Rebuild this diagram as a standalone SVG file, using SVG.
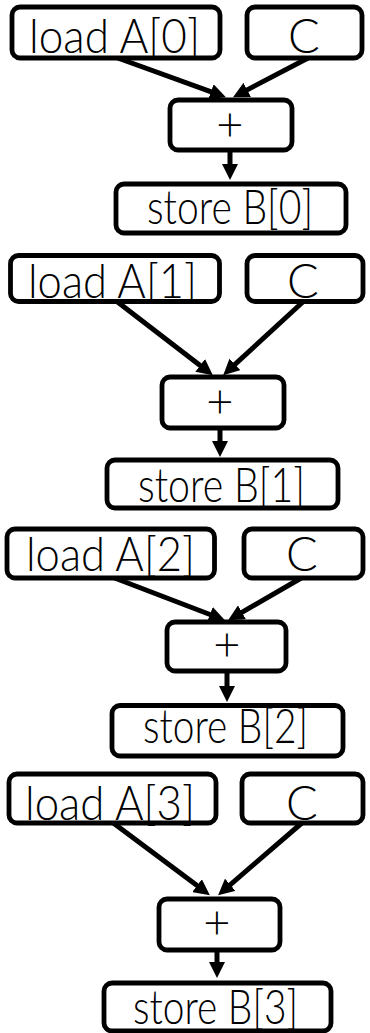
<svg xmlns="http://www.w3.org/2000/svg" width="370" height="1033" viewBox="0 0 370 1033">
  <style>
    .box { fill: #ffffff; stroke: #000000; stroke-width: 4.8; }
    .lbl { font-family: Lato, "Liberation Sans", sans-serif; font-weight: 300; font-size: 47px; fill: #000000; }
    .mid { text-anchor: middle; }
    .edge { stroke: #000000; stroke-width: 5; fill: none; marker-end: url(#head); }
  </style>
  <defs>
    <marker id="head" markerUnits="userSpaceOnUse" markerWidth="16" markerHeight="16" refX="7" refY="8" orient="auto">
      <path d="M0,0 L16,8 L0,16 z" fill="#000000"/>
    </marker>
  </defs>
  <rect width="370" height="1033" fill="#ffffff"/>

  <!-- data-flow edges -->
  <g id="connectors">
    <line class="edge" x1="115" y1="57" x2="217.5" y2="94.2"/>
    <line class="edge" x1="310" y1="57" x2="241" y2="93.1"/>
    <line class="edge" x1="230" y1="150" x2="230" y2="171"/>

    <line class="edge" x1="115" y1="300" x2="205.7" y2="369.7"/>
    <line class="edge" x1="305" y1="300" x2="229.8" y2="369.1"/>
    <line class="edge" x1="220" y1="428" x2="220" y2="448"/>

    <line class="edge" x1="112" y1="577" x2="216.5" y2="617"/>
    <line class="edge" x1="303" y1="577" x2="235.9" y2="615.8"/>
    <line class="edge" x1="227" y1="671" x2="227" y2="693"/>

    <line class="edge" x1="112" y1="822" x2="202.7" y2="889.8"/>
    <line class="edge" x1="303" y1="822" x2="224.9" y2="889.3"/>
    <line class="edge" x1="217" y1="950" x2="217" y2="969"/>
  </g>

  <!-- iteration 0 -->
  <g id="load0"><rect class="box" x="12" y="7" width="208" height="51" rx="8"/><text class="lbl" x="29" y="53" textLength="171" lengthAdjust="spacingAndGlyphs">load A[0]</text></g>
  <g id="c0"><rect class="box" x="247" y="7" width="115" height="51" rx="8"/><text class="lbl mid" x="304" y="53">C</text></g>
  <g id="add0"><rect class="box" x="170" y="100" width="122" height="50" rx="8"/><text class="lbl mid" x="230" y="141">+</text></g>
  <g id="store0"><rect class="box" x="116" y="184" width="230" height="49" rx="8"/><text class="lbl" x="147" y="224" textLength="166" lengthAdjust="spacingAndGlyphs">store B[0]</text></g>

  <!-- iteration 1 -->
  <g id="load1"><rect class="box" x="10.5" y="255.5" width="209" height="46" rx="8"/><text class="lbl" x="28" y="298" textLength="169" lengthAdjust="spacingAndGlyphs">load A[1]</text></g>
  <g id="c1"><rect class="box" x="247" y="255.5" width="116" height="46" rx="8"/><text class="lbl mid" x="303" y="298">C</text></g>
  <g id="add1"><rect class="box" x="162" y="377" width="122" height="51" rx="8"/><text class="lbl mid" x="220" y="418">+</text></g>
  <g id="store1"><rect class="box" x="107" y="460" width="231" height="48" rx="8"/><text class="lbl" x="138" y="502" textLength="167" lengthAdjust="spacingAndGlyphs">store B[1]</text></g>

  <!-- iteration 2 -->
  <g id="load2"><rect class="box" x="7" y="529" width="207.5" height="49" rx="8"/><text class="lbl" x="26" y="571" textLength="169" lengthAdjust="spacingAndGlyphs">load A[2]</text></g>
  <g id="c2"><rect class="box" x="244" y="529" width="119" height="49" rx="8"/><text class="lbl mid" x="302" y="571">C</text></g>
  <g id="add2"><rect class="box" x="167" y="622" width="119" height="49" rx="8"/><text class="lbl mid" x="227" y="661">+</text></g>
  <g id="store2"><rect class="box" x="112" y="705.5" width="231" height="50.5" rx="8"/><text class="lbl" x="143" y="743" textLength="165" lengthAdjust="spacingAndGlyphs">store B[2]</text></g>

  <!-- iteration 3 -->
  <g id="load3"><rect class="box" x="9" y="774" width="207" height="49" rx="8"/><text class="lbl" x="25" y="820" textLength="170" lengthAdjust="spacingAndGlyphs">load A[3]</text></g>
  <g id="c3"><rect class="box" x="242" y="774" width="121" height="49" rx="8"/><text class="lbl mid" x="302" y="820">C</text></g>
  <g id="add3"><rect class="box" x="159" y="899" width="121" height="51" rx="8"/><text class="lbl mid" x="217" y="939">+</text></g>
  <g id="store3"><rect class="box" x="104" y="983" width="227" height="48" rx="8"/><text class="lbl" x="133" y="1024" textLength="165" lengthAdjust="spacingAndGlyphs">store B[3]</text></g>
</svg>
